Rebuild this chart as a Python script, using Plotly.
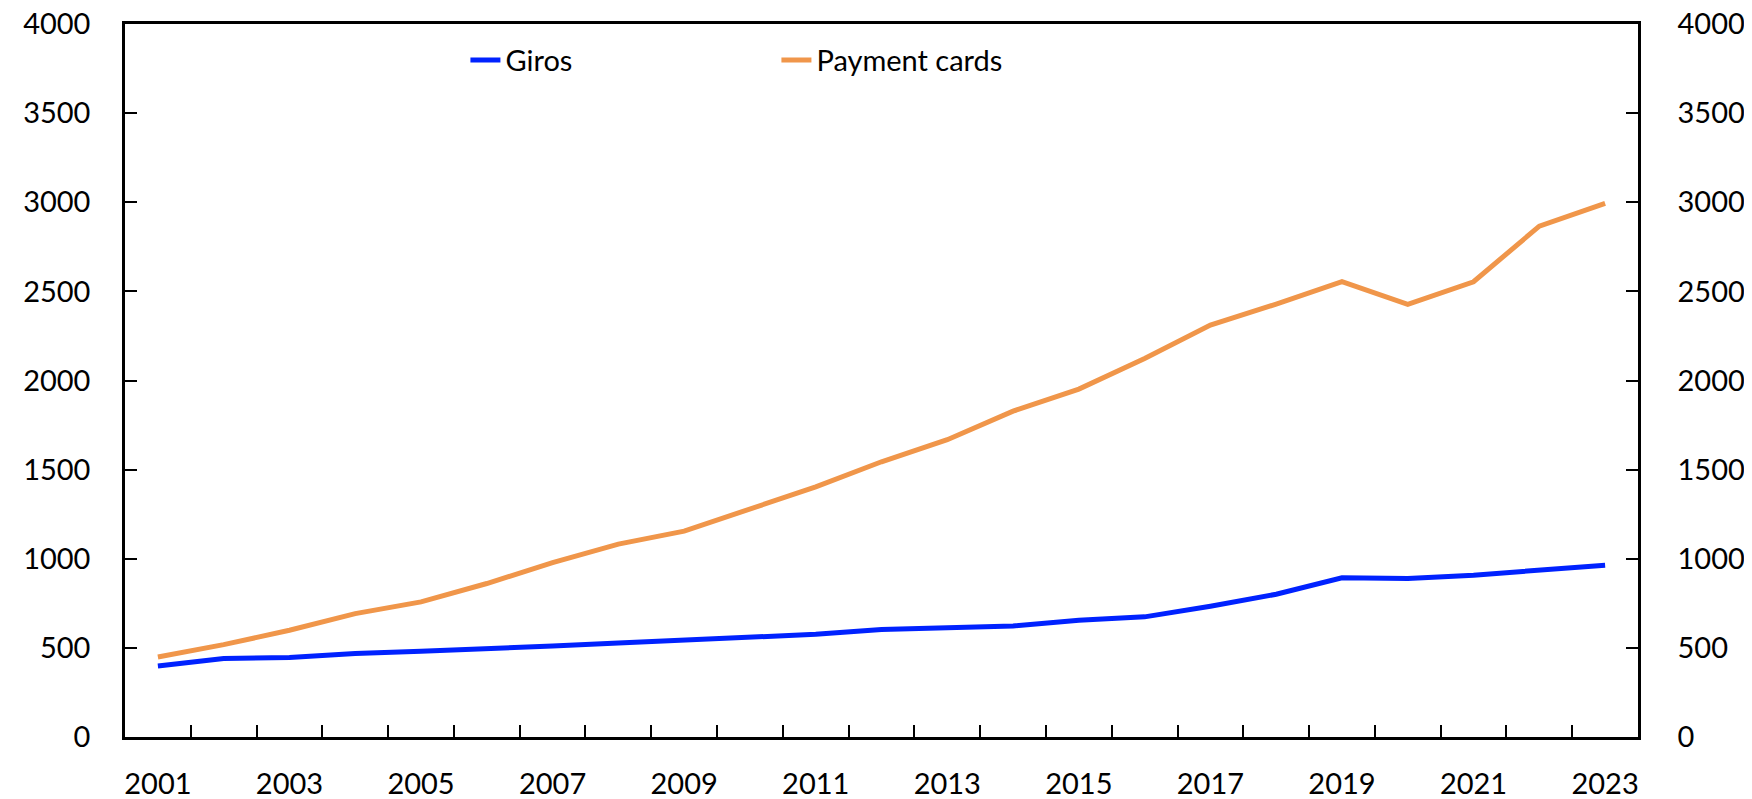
import plotly.graph_objects as go

years = list(range(2001, 2024))
giros = [398, 440, 446, 468, 481, 492, 510, 528, 543, 565, 576, 603, 612, 623,
         655, 674, 734, 801, 893, 889, 908, 936, 964]
payment_cards = [449, 518, 599, 692, 758, 861, 978, 1082, 1155, 1276, 1403, 1544,
                 1668, 1828, 1952, 2124, 2311, 2429, 2554, 2427, 2554, 2866, 2994]
x_labels = [str(y) for y in range(2001, 2024, 2)]

font = dict(family="Lato, Noto Sans, sans-serif", size=29, color="black")

fig = go.Figure()
fig.add_trace(go.Scatter(x=years, y=giros, name="Giros", mode="lines",
                         line=dict(color="#0022FF", width=5)))
fig.add_trace(go.Scatter(x=years, y=payment_cards, name="Payment cards", mode="lines",
                         line=dict(color="#F0964A", width=5)))
# copy on the right axis so it is drawn, invisible
fig.add_trace(go.Scatter(x=years, y=giros, yaxis="y2", mode="lines", showlegend=False,
                         hoverinfo="skip", line=dict(color="rgba(0,0,0,0)")))

# page body has an 8px margin, so the figure is a bit smaller than the window
fig.update_layout(
    width=1744, height=791,
    margin=dict(l=117, r=114, t=16, b=62, autoexpand=False),
    paper_bgcolor="white", plot_bgcolor="white",
    font=font,
    showlegend=True,
    legend=dict(orientation="h", x=0.225, y=0.985, xanchor="left", yanchor="top",
                entrywidth=266, entrywidthmode="pixels", bgcolor="rgba(0,0,0,0)",
                font=font, itemwidth=30),
    xaxis=dict(range=[2000.5, 2023.5], tickmode="array", tickvals=list(range(2001, 2024, 2)),
               ticktext=x_labels, ticks="inside", ticklen=0, tickcolor="rgba(0,0,0,0)",
               showgrid=False, zeroline=False, showline=True, linecolor="black",
               linewidth=2.5, mirror=True, ticklabelstandoff=19, automargin=False,
               ticklabeloverflow="allow",
               minor=dict(tick0=2000.5, dtick=1, ticks="inside", ticklen=12,
                          tickwidth=2, tickcolor="black", showgrid=False)),
    yaxis=dict(range=[0, 4000], dtick=500, ticks="inside", ticklen=12, tickwidth=2,
               tickcolor="black", showgrid=False, zeroline=False, showline=True,
               linecolor="black", linewidth=2.5, mirror=True, ticklabelstandoff=26,
               automargin=False, ticklabeloverflow="allow"),
    yaxis2=dict(range=[0, 4000], dtick=500, overlaying="y", side="right", ticks="inside",
                ticklen=12, tickwidth=2, tickcolor="black", showgrid=False,
                zeroline=False, showline=True, linecolor="black", linewidth=2.5,
                ticklabelstandoff=31, automargin=False, ticklabeloverflow="allow"),
)

fig.write_html("out.html")
